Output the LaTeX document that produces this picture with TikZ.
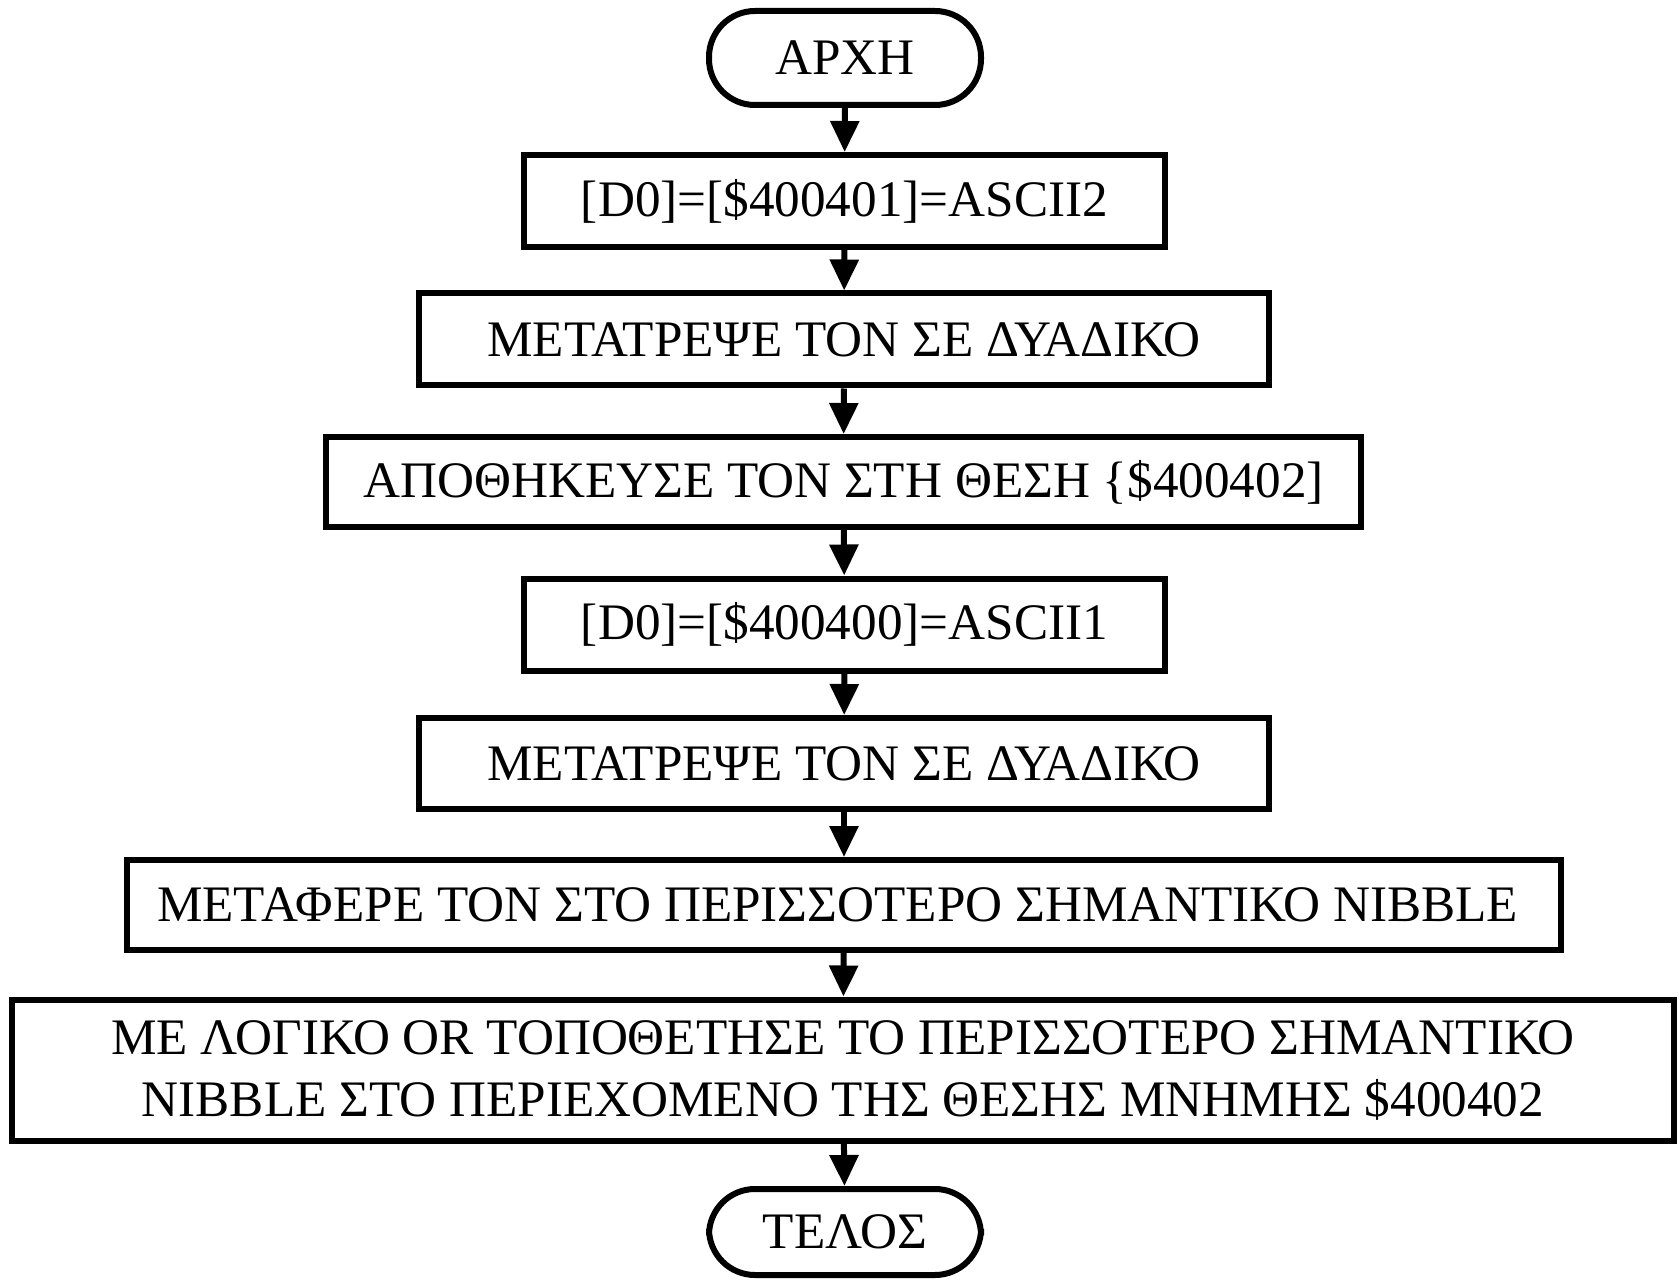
\documentclass[tikz,border=0pt]{standalone}
\usepackage{fontspec}
\setmainfont{Liberation Serif}
\usetikzlibrary{arrows.meta}
\begin{document}
\begin{tikzpicture}[x=0.5pt,y=-0.5pt,
  every node/.style={font=\fontsize{25.6}{31}\selectfont, inner sep=0pt, align=center},
  stepbox/.style={draw, line width=3pt, rectangle},
  term/.style={draw, line width=3pt, rectangle, rounded corners=23pt},
  arr/.style={line width=3pt, -{Triangle[length=15.5pt,width=14pt]}}]
\useasboundingbox (0,0) rectangle (1680,1283);
\node[term, minimum width=136pt, minimum height=47pt] (s) at (845,58) {ΑΡΧΗ};
\node[stepbox, minimum width=320.5pt, minimum height=46pt] (b1) at (844.5,201) {[D0]=[\$400401]=ASCII2};
\node[stepbox, minimum width=425pt, minimum height=46pt] (b2) at (844,339.5) {ΜΕΤΑΤΡΕΨΕ ΤΟΝ ΣΕ ΔΥΑΔΙΚΟ};
\node[stepbox, minimum width=517.5pt, minimum height=45pt] (b3) at (843.5,482) {ΑΠΟΘΗΚΕΥΣΕ ΤΟΝ ΣΤΗ ΘΕΣΗ \{\$400402]};
\node[stepbox, minimum width=320.5pt, minimum height=46pt] (b4) at (844.5,624.5) {[D0]=[\$400400]=ASCII1};
\node[stepbox, minimum width=425pt, minimum height=45.5pt] (b5) at (844,763.5) {ΜΕΤΑΤΡΕΨΕ ΤΟΝ ΣΕ ΔΥΑΔΙΚΟ};
\node[stepbox, minimum width=717pt, minimum height=45pt] (b6) at (844,905) {ΜΕΤΑΦΕΡΕ ΤΟΝ ΣΤΟ ΠΕΡΙΣΣΟΤΕΡΟ ΣΗΜΑΝΤΙΚΟ NIBBLE\ };
\node[stepbox, minimum width=831pt, minimum height=70.5pt] (b7) at (843,1070) {ΜΕ ΛΟΓΙΚΟ OR ΤΟΠΟΘΕΤΗΣΕ ΤΟ ΠΕΡΙΣΣΟΤΕΡΟ ΣΗΜΑΝΤΙΚΟ\\ΝΙΒΒLE ΣΤΟ ΠΕΡΙΕΧΟΜΕΝΟ ΤΗΣ ΘΕΣΗΣ ΜΝΗΜΗΣ \$400402};
\node[term, minimum width=136pt, minimum height=43pt] (e) at (845,1232) {ΤΕΛΟΣ};
\draw[arr] (s) -- (b1);
\draw[arr] (b1) -- (b2);
\draw[arr] (b2) -- (b3);
\draw[arr] (b3) -- (b4);
\draw[arr] (b4) -- (b5);
\draw[arr] (b5) -- (b6);
\draw[arr] (b6) -- (b7);
\draw[arr] (b7) -- (e);
\end{tikzpicture}
\end{document}
